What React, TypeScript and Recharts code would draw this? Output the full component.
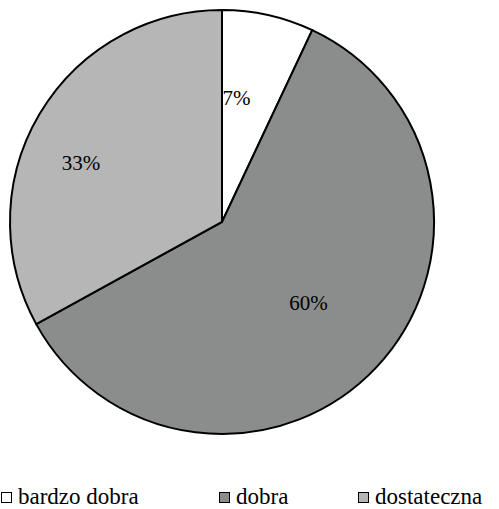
import { PieChart, Pie, Cell, Legend } from "recharts";

const CATEGORIES = ["bardzo dobra", "dobra", "dostateczna"];
const VALUES = [7, 60, 33];
const FILLS = ["#ffffff", "#8b8d8d", "#b6b6b6"];

// label placement tweaks (fraction of radius, angle nudge in degrees)
const LABEL_R = [0.59, 0.56, 0.72];
const LABEL_NUDGE = [6, 0, 8];
const LEGEND_X = [1, 219, 358];

const data = CATEGORIES.map((name, i) => ({ name, value: VALUES[i] }));
const RAD = Math.PI / 180;
const FONT = "Times New Roman, Liberation Serif, serif";

function renderLabel(props: any) {
  const { cx, cy, midAngle, outerRadius, index, percent } = props;
  const a = (midAngle + LABEL_NUDGE[index]) * RAD;
  const r = outerRadius * LABEL_R[index];
  const x = cx + r * Math.cos(a);
  const y = cy - r * Math.sin(a);
  return (
    <text
      x={x}
      y={y}
      textAnchor="middle"
      dominantBaseline="central"
      style={{ fontFamily: FONT, fontSize: 21 }}
      fill="#000"
    >
      {Math.round(percent * 100)}%
    </text>
  );
}

function LegendContent() {
  return (
    <div style={{ position: "relative", height: 24 }}>
      {data.map((d, i) => (
        <div
          key={d.name}
          style={{
            position: "absolute",
            left: LEGEND_X[i],
            top: 0,
            display: "flex",
            alignItems: "center",
            fontFamily: FONT,
            fontSize: 23,
            lineHeight: "24px",
            color: "#000",
            whiteSpace: "nowrap",
          }}
        >
          <span
            style={{
              display: "inline-block",
              width: 9,
              height: 9,
              border: "1px solid #000",
              background: FILLS[i],
              marginRight: 6,
            }}
          />
          {d.name}
        </div>
      ))}
    </div>
  );
}

export default function App() {
  return (
    <div style={{ position: "absolute", left: 0, top: 0, width: 499, height: 509, background: "#fff" }}>
      <PieChart width={499} height={509} margin={{ top: 0, right: 0, bottom: 0, left: 0 }}>
        <Pie
          data={data}
          dataKey="value"
          nameKey="name"
          cx={222}
          cy={222}
          outerRadius={212}
          startAngle={90}
          endAngle={-270}
          stroke="#000"
          strokeWidth={2}
          label={renderLabel}
          labelLine={false}
          isAnimationActive={false}
        >
          {data.map((d, i) => (
            <Cell key={d.name} fill={FILLS[i]} />
          ))}
        </Pie>
        <Legend
          verticalAlign="bottom"
          align="left"
          wrapperStyle={{ top: 485, left: 0, width: 499, bottom: "auto" }}
          content={() => <LegendContent />}
        />
      </PieChart>
    </div>
  );
}
